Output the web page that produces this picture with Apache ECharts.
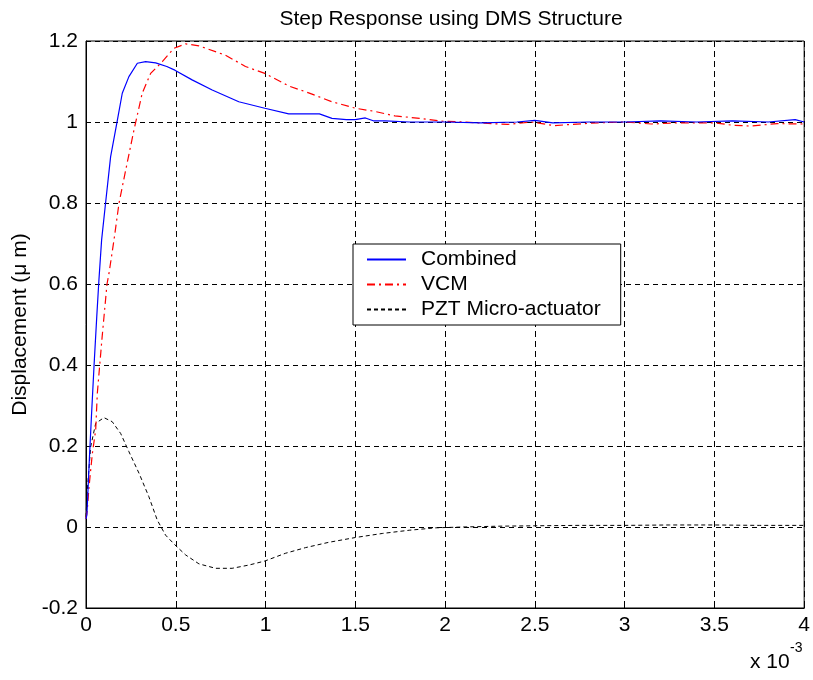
<!DOCTYPE html>
<html>
<head>
<meta charset="utf-8">
<script src="https://cdn.jsdelivr.net/npm/echarts@6/dist/echarts.min.js"></script>
<style>html,body{margin:0;padding:0;background:#fff}#c{width:813px;height:680px}</style>
</head>
<body>
<div id="c"></div>
<script>
// time axis values are in units of 1e-3 s
const combinedT = [0, 0.005, 0.01, 0.02, 0.03, 0.045, 0.06, 0.072, 0.087, 0.109, 0.137, 0.174, 0.202, 0.239, 0.286, 0.332, 0.388, 0.45, 0.495, 0.591, 0.703, 0.851, 0.996, 1.129, 1.24, 1.3, 1.37, 1.45, 1.5, 1.556, 1.6, 1.667, 1.8, 2.0, 2.2, 2.4, 2.5, 2.6, 2.8, 3.0, 3.2, 3.4, 3.6, 3.8, 3.95, 4.0];
const combinedV = [0.02, 0.03, 0.08, 0.18, 0.27, 0.40, 0.52, 0.61, 0.709, 0.80, 0.914, 1.003, 1.071, 1.112, 1.145, 1.149, 1.146, 1.137, 1.128, 1.104, 1.079, 1.050, 1.034, 1.020, 1.02, 1.02, 1.009, 1.006, 1.006, 1.01, 1.003, 1.003, 1.0, 1.0, 0.998, 1.0, 1.004, 0.998, 1.0, 1.0, 1.003, 1.0, 1.003, 1.0, 1.006, 1.0];

const vcmT = [0, 0.007, 0.017, 0.035, 0.054, 0.063, 0.09, 0.117, 0.128, 0.156, 0.184, 0.221, 0.267, 0.313, 0.36, 0.425, 0.49, 0.555, 0.629, 0.777, 0.888, 0.996, 1.129, 1.24, 1.37, 1.5, 1.61, 1.72, 1.86, 1.98, 2.1, 2.22, 2.35, 2.48, 2.61, 2.7, 2.85, 3.0, 3.15, 3.3, 3.5, 3.6, 3.7, 3.85, 4.0];
const vcmV = [0.02, 0.042, 0.1, 0.18, 0.24, 0.33, 0.47, 0.6, 0.626, 0.709, 0.80, 0.881, 0.98, 1.071, 1.12, 1.149, 1.182, 1.193, 1.188, 1.165, 1.137, 1.12, 1.089, 1.072, 1.05, 1.034, 1.026, 1.015, 1.009, 1.002, 1.0, 0.997, 0.994, 1.0, 0.991, 0.994, 0.998, 1.0, 0.995, 0.998, 0.998, 0.992, 0.99, 0.996, 0.995];

const pztT = [0, 0.007, 0.026, 0.054, 0.1, 0.146, 0.193, 0.239, 0.295, 0.35, 0.397, 0.443, 0.495, 0.555, 0.629, 0.722, 0.814, 0.907, 0.996, 1.11, 1.222, 1.35, 1.5, 1.65, 1.8, 1.95, 2.1, 2.3, 2.5, 2.75, 3.0, 3.25, 3.5, 3.75, 4.0];
const pztV = [0.025, 0.09, 0.198, 0.256, 0.27, 0.26, 0.231, 0.186, 0.133, 0.075, 0.017, -0.02, -0.044, -0.069, -0.091, -0.102, -0.102, -0.094, -0.084, -0.065, -0.051, -0.038, -0.026, -0.016, -0.008, -0.002, 0.0, 0.002, 0.003, 0.004, 0.004, 0.005, 0.005, 0.004, 0.004];

const seriesNames = ['Combined', 'VCM', 'PZT Micro-actuator'];
const titleText = 'Step Response using DMS Structure';
const yAxisTitle = 'Displacement (\u03bc m)';

const pair = (t, v) => t.map((x, i) => [x, v[i]]);
const FONT = '"Liberation Sans", Arial, sans-serif';

const chart = echarts.init(document.getElementById('c'), null, {renderer: 'canvas'});
chart.setOption({
  backgroundColor: '#fff',
  animation: false,
  title: {
    text: titleText, left: 446, textAlign: 'center', top: 4,
    textStyle: {fontFamily: FONT, fontSize: 21, fontWeight: 'normal', color: '#000'}
  },
  grid: {left: 86, right: 8, top: 41, bottom: 72, show: true, borderColor: '#000', borderWidth: 1, backgroundColor: 'transparent'},
  legend: {
    orient: 'vertical', left: 353, top: 244,
    padding: [5, 20, 5, 13],
    itemWidth: 39, itemHeight: 14, itemGap: 4,
    borderColor: '#000', borderWidth: 1, backgroundColor: '#fff',
    itemStyle: {opacity: 0},
    textStyle: {fontFamily: FONT, fontSize: 21, color: '#000', lineHeight: 21, padding: [0, 0, 0, 10]},
    data: seriesNames
  },
  xAxis: {
    type: 'value', min: 0, max: 4, interval: 0.5,
    axisLine: {show: true, onZero: false, lineStyle: {color: '#000', width: 1}},
    axisTick: {show: true, inside: true, length: 5, lineStyle: {color: '#000'}},
    axisLabel: {fontFamily: FONT, fontSize: 21, color: '#000', margin: 7},
    splitLine: {show: true, lineStyle: {color: '#000', type: [6, 4], width: 1}}
  },
  yAxis: {
    type: 'value', min: -0.2, max: 1.2, interval: 0.2,
    name: yAxisTitle, nameLocation: 'middle', nameRotate: 90, nameGap: 53,
    nameTextStyle: {fontFamily: FONT, fontSize: 21, color: '#000'},
    axisLine: {show: true, onZero: false, lineStyle: {color: '#000', width: 1}},
    axisTick: {show: true, inside: true, length: 5, lineStyle: {color: '#000'}},
    axisLabel: {fontFamily: FONT, fontSize: 21, color: '#000', margin: 8},
    splitLine: {show: true, lineStyle: {color: '#000', type: [5, 4], width: 1}}
  },
  graphic: [
    {type: 'text', left: 750, top: 652, style: {text: 'x 10', font: '21px ' + FONT, fill: '#000'}},
    {type: 'text', left: 790, top: 641, style: {text: '-3', font: '14px ' + FONT, fill: '#000'}}
  ],
  series: [
    {name: seriesNames[0], type: 'line', data: pair(combinedT, combinedV), symbol: 'none', smooth: false,
     lineStyle: {color: '#0000ff', width: 1.2, type: 'solid'}, itemStyle: {color: '#0000ff'}, z: 5},
    {name: seriesNames[1], type: 'line', data: pair(vcmT, vcmV), symbol: 'none',
     lineStyle: {color: '#ff0000', width: 1.2, type: [8, 4, 2, 4]}, itemStyle: {color: '#ff0000'}, z: 4},
    {name: seriesNames[2], type: 'line', data: pair(pztT, pztV), symbol: 'none',
     lineStyle: {color: '#000000', width: 1, type: [4, 3]}, itemStyle: {color: '#000'}, z: 3}
  ]
});
</script>
</body>
</html>
